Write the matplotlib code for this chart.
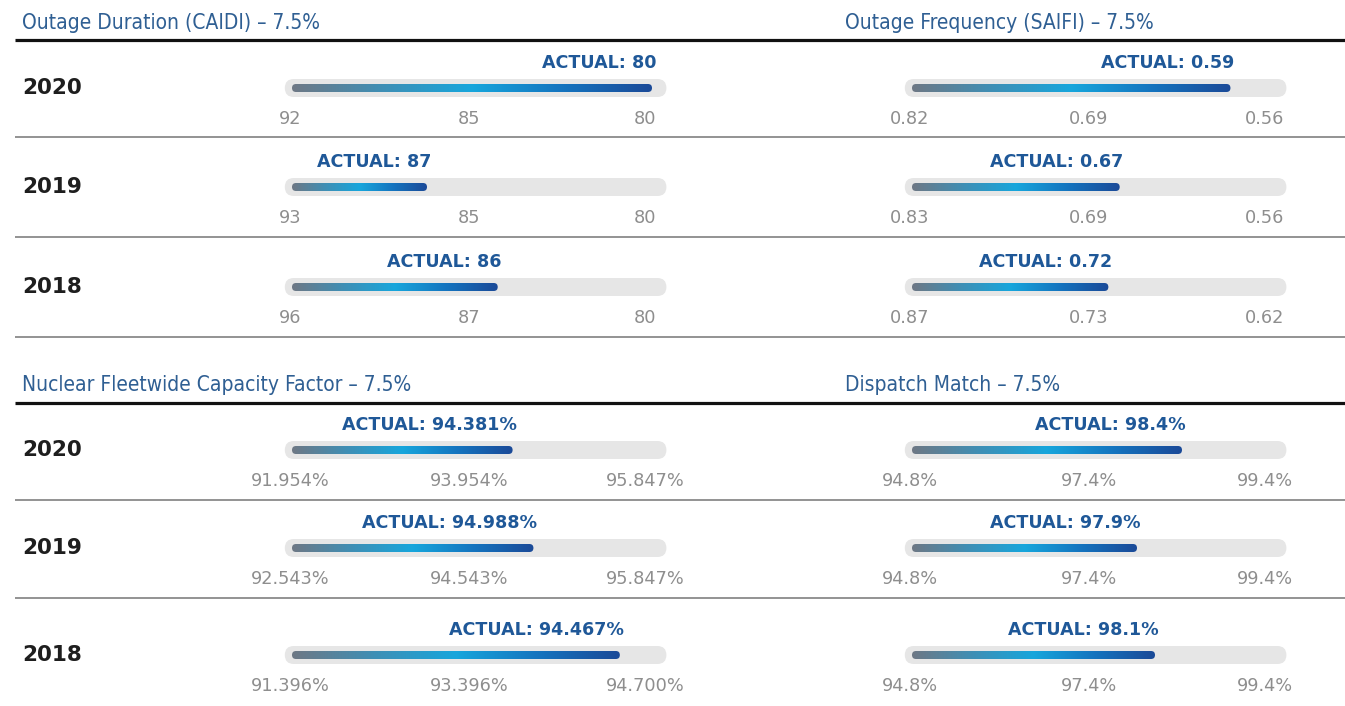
import numpy as np
import matplotlib
matplotlib.use("Agg")
import matplotlib.pyplot as plt
from matplotlib.patches import FancyBboxPatch
from matplotlib.colors import LinearSegmentedColormap

# ---- data -------------------------------------------------------------
years = ["2020", "2019", "2018"]

caidi_title = "Outage Duration (CAIDI) \u2013 7.5%"
caidi_threshold = [92, 93, 96]
caidi_target = [85, 85, 87]
caidi_max = [80, 80, 80]
caidi_actual = [80, 87, 86]

saifi_title = "Outage Frequency (SAIFI) \u2013 7.5%"
saifi_threshold = [0.82, 0.83, 0.87]
saifi_target = [0.69, 0.69, 0.73]
saifi_max = [0.56, 0.56, 0.62]
saifi_actual = [0.59, 0.67, 0.72]

ncf_title = "Nuclear Fleetwide Capacity Factor \u2013 7.5%"
ncf_threshold = [91.954, 92.543, 91.396]
ncf_target = [93.954, 94.543, 93.396]
ncf_max = [95.847, 95.847, 94.700]
ncf_actual = [94.381, 94.988, 94.467]

dispatch_title = "Dispatch Match \u2013 7.5%"
dispatch_threshold = [94.8, 94.8, 94.8]
dispatch_target = [97.4, 97.4, 97.4]
dispatch_max = [99.4, 99.4, 99.4]
dispatch_actual = [98.4, 97.9, 98.1]

# ---- style ------------------------------------------------------------
W, H = 1345, 706
S = 360.0                      # pixels per unit of the 0..1 performance scale
TITLE_C = "#2f5f93"
ACTUAL_C = "#1f5898"
TICK_C = "#8e8e8e"
TRACK_C = "#e6e6e6"
grad = LinearSegmentedColormap.from_list(
    "perf", ["#6e7885", "#3f8fb5", "#17a6dc", "#1474bf", "#1b4a98"])

fig = plt.figure(figsize=(W / 100, H / 100), dpi=100)
bg = fig.add_axes([0, 0, 1, 1])
bg.set_xlim(0, W)
bg.set_ylim(H, 0)
bg.axis("off")


def score(v, thr, tgt, mx):
    """Piecewise-linear position: threshold -> 0, target -> 0.5, max -> 1."""
    xp = np.array([thr, tgt, mx], dtype=float)
    fp = np.array([0.0, 0.5, 1.0])
    if xp[0] > xp[-1]:
        xp, fp = xp[::-1], fp[::-1]
    return float(np.interp(v, xp, fp))


def cell(x0, yc, thr, tgt, mx, act, fmt):
    ax = fig.add_axes([(x0 - 0.05 * S) / W, 1 - (yc + 50) / H,
                       1.12 * S / W, 100 / H])
    ax.axis("off")

    th = 18 / S
    ax.add_patch(FancyBboxPatch((-0.02, -th / 2), 1.06, th,
                                boxstyle=f"round,pad=0,rounding_size={th / 2}",
                                fc=TRACK_C, ec="none", zorder=1))
    s = score(act, thr, tgt, mx)
    bh = 8 / S
    clip = FancyBboxPatch((0.0, -bh / 2), s, bh,
                          boxstyle=f"round,pad=0,rounding_size={bh / 2}",
                          fc="none", ec="none", zorder=1)
    ax.add_patch(clip)
    im = ax.imshow(np.linspace(0, 1, 256)[None, :], cmap=grad, aspect="auto",
                   extent=(0, s, -bh / 2, bh / 2), interpolation="bilinear",
                   zorder=2)
    im.set_clip_path(clip)
    ax.set_xlim(-0.05, 1.07)
    ax.set_ylim(-50 / S, 50 / S)

    ax.text(s + 4 / S, 25 / S, "ACTUAL: " + fmt.format(act), ha="right",
            va="center", fontsize=12.6, fontweight="bold", color=ACTUAL_C)
    for pos, v, off in zip([0, 0.5, 1], [thr, tgt, mx], [-2, -3, -7]):
        ax.text(pos + off / S, -31 / S, fmt.format(v), ha="center",
                va="center", fontsize=12.8, color=TICK_C)


panels = [
    (caidi_title, 22, 292, [88, 187, 287], 29, [137, 237, 337],
     caidi_threshold, caidi_target, caidi_max, caidi_actual, "{:.0f}"),
    (saifi_title, 845, 912, [88, 187, 287], 29, [137, 237, 337],
     saifi_threshold, saifi_target, saifi_max, saifi_actual, "{:.2f}"),
    (ncf_title, 22, 292, [450, 548, 655], 391, [500, 598],
     ncf_threshold, ncf_target, ncf_max, ncf_actual, "{:.3f}%"),
    (dispatch_title, 845, 912, [450, 548, 655], 391, [500, 598],
     dispatch_threshold, dispatch_target, dispatch_max, dispatch_actual, "{:.1f}%"),
]

for (title, tx, x0, rows, ty, seps, thr, tgt, mx, act, fmt) in panels:
    bg.text(tx, ty, title, ha="left", va="baseline", fontsize=15,
            color=TITLE_C, fontstretch="condensed")
    for yc, yr, a, b, c, d in zip(rows, years, thr, tgt, mx, act):
        if tx < 400:
            bg.text(22, yc, yr, ha="left", va="center", fontsize=15.5,
                    fontweight="bold", color="#1e1e1e")
        cell(x0, yc, a, b, c, d, fmt)

# rules across the full width
for hy in (40, 403):
    bg.plot([15, W], [hy, hy], color="#111111", lw=2.3, solid_capstyle="butt")
for sy in (137, 237, 337, 500, 598):
    bg.plot([15, W], [sy, sy], color="#8a8a8a", lw=1.3, solid_capstyle="butt")

fig.savefig("out.png", dpi=100)
